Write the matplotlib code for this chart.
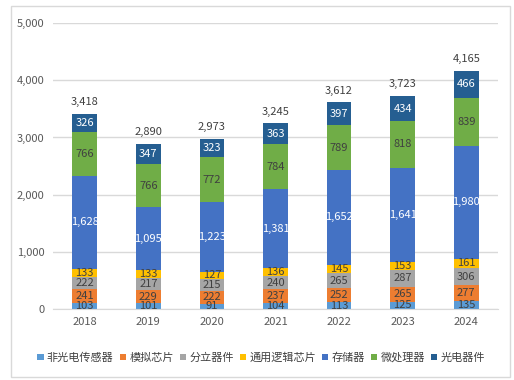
import numpy as np
import matplotlib
matplotlib.use("Agg")
import matplotlib.pyplot as plt
from matplotlib.patches import Rectangle

plt.rcParams['font.family'] = ['Noto Sans CJK SC', 'DejaVu Sans']

years = ['2018', '2019', '2020', '2021', '2022', '2023', '2024']
series_names = ['非光电传感器', '模拟芯片', '分立器件', '通用逻辑芯片', '存储器', '微处理器', '光电器件']
sensor = [103, 101, 91, 104, 113, 125, 135]
analog = [241, 229, 222, 237, 252, 265, 277]
discrete = [222, 217, 215, 240, 265, 287, 306]
logic = [133, 133, 127, 136, 145, 153, 161]
memory = [1628, 1095, 1223, 1381, 1652, 1641, 1980]
micro = [766, 766, 772, 784, 789, 818, 839]
opto = [326, 347, 323, 363, 397, 434, 466]
totals = [3418, 2890, 2973, 3245, 3612, 3723, 4165]

colors = ['#5B9BD5', '#ED7D31', '#A5A5A5', '#FFC000', '#4472C4', '#70AD47', '#255E91']
label_colors = ['#404040', '#404040', '#404040', '#404040', 'white', '#404040', 'white']

fig = plt.figure(figsize=(5.14, 3.80), dpi=100)
ax = fig.add_axes([0.103, 0.187, 0.866, 0.752])

# outer chart border
fig.patches.append(Rectangle((0.021, 0.008), 0.971, 0.976, transform=fig.transFigure,
                             fill=False, edgecolor='#D9D9D9', linewidth=1))

x = np.arange(len(years))
bottom = np.zeros(len(years))
for name, vals, c, lc in zip(series_names, [sensor, analog, discrete, logic, memory, micro, opto],
                             colors, label_colors):
    vals = np.array(vals)
    ax.bar(x, vals, 0.39, bottom=bottom, color=c, label=name, zorder=2)
    for xi, b, v in zip(x, bottom, vals):
        ax.text(xi, b + v / 2, f'{v:,}', ha='center', va='center', fontsize=8, color=lc, zorder=3)
    bottom += vals

for xi, b, t in zip(x, bottom, totals):
    ax.text(xi, b + 120, f'{t:,}', ha='center', va='bottom', fontsize=8, color='#404040')

ax.set_xlim(-0.5, 6.5)
ax.set_ylim(0, 5000)
ax.set_yticks(np.arange(0, 5001, 1000))
ax.set_yticklabels([f'{v:,}' for v in range(0, 5001, 1000)])
ax.set_xticks(x)
ax.set_xticklabels(years)
ax.tick_params(axis='both', length=0, labelsize=8, labelcolor='#595959', pad=6)
ax.grid(axis='y', color='#D9D9D9', linewidth=1, zorder=0)
for s in ax.spines.values():
    s.set_visible(False)
ax.spines['bottom'].set_visible(True)
ax.spines['bottom'].set_color('#D9D9D9')

ax.legend(loc='center', bbox_to_anchor=(0.468, -0.17), ncol=7, frameon=False, fontsize=8,
          handlelength=0.55, handleheight=0.55, handletextpad=0.3, columnspacing=0.55,
          labelcolor='#404040')

fig.savefig('out.png', dpi=100)
